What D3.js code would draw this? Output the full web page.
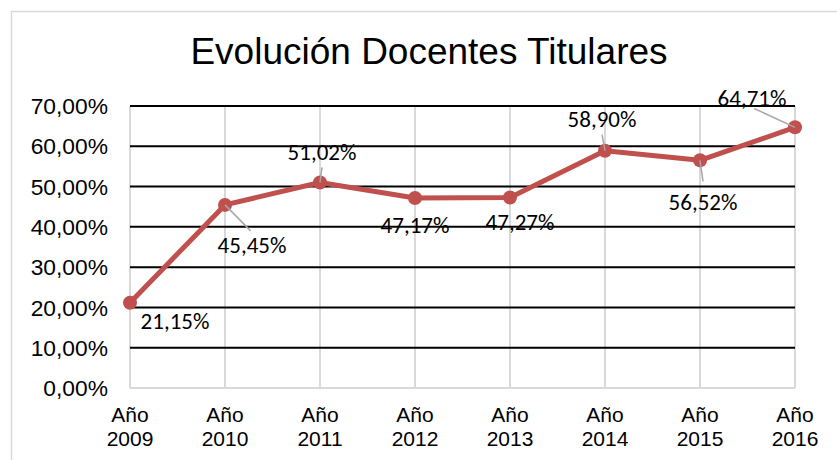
<!DOCTYPE html>
<html>
<head>
<meta charset="utf-8">
<script src="https://cdn.jsdelivr.net/npm/d3@7"></script>
<style>
  body { margin: 0; background: #fff; }
  text { font-family: "Liberation Sans", Arial, sans-serif; }
</style>
</head>
<body>
<div id="chart"></div>
<script>
// data
var years = ["2009", "2010", "2011", "2012", "2013", "2014", "2015", "2016"]
var titulares = [21.15, 45.45, 51.02, 47.17, 47.27, 58.90, 56.52, 64.71]
var yTicks = [0, 10, 20, 30, 40, 50, 60, 70]

// label placement (pixels from the point), and which ones get a leader line
var labelDx = [45, 27, 2, 0, 10, -3, 3, -43]
var labelDy = [18, 40, -31, 27, 24, -32, 41, -30]
var leader = [false, true, true, false, false, true, true, true]

var W = 837, H = 460
var svg = d3.select("#chart").append("svg")
    .attr("width", W)
    .attr("height", H)

// chart border (only top and left visible in the crop)
svg.append("path")
    .attr("d", "M11.5," + H + "V11.5H" + W)
    .attr("fill", "none")
    .attr("stroke", "#d9d9d9")
    .attr("stroke-width", 1.5)

svg.append("text")
    .attr("x", 429)
    .attr("y", 64)
    .attr("text-anchor", "middle")
    .style("font-size", "37px")
    .attr("fill", "#000")
    .text("Evolución Docentes Titulares")

var x = d3.scalePoint().domain(years).range([130, 795])
var y = d3.scaleLinear().domain([0, 70]).range([388, 106])

// vertical light grid
svg.selectAll(".vgrid").data(years)
  .enter().append("line")
    .attr("class", "vgrid")
    .attr("x1", d => x(d)).attr("x2", d => x(d))
    .attr("y1", y(70)).attr("y2", y(0))
    .attr("stroke", "#d9d9d9")
    .attr("stroke-width", 2)

// horizontal grid (black), baseline light gray
svg.selectAll(".hgrid").data(yTicks)
  .enter().append("line")
    .attr("class", "hgrid")
    .attr("x1", x(years[0])).attr("x2", x(years[years.length - 1]))
    .attr("y1", d => y(d)).attr("y2", d => y(d))
    .attr("stroke", d => d == 0 ? "#d9d9d9" : "#000")
    .attr("stroke-width", 2)

// y axis labels
svg.selectAll(".ylab").data(yTicks)
  .enter().append("text")
    .attr("class", "ylab")
    .attr("x", 108)
    .attr("y", d => y(d))
    .attr("dy", "0.36em")
    .attr("text-anchor", "end")
    .style("font-size", "22.8px")
    .text(d => d3.format(".2f")(d).replace(".", ",") + "%")

// x axis labels (two lines)
var xl = svg.selectAll(".xlab").data(years)
  .enter().append("text")
    .attr("class", "xlab")
    .attr("text-anchor", "middle")
    .style("font-size", "21px")
xl.append("tspan").attr("x", d => x(d)).attr("y", 422).text("Año")
xl.append("tspan").attr("x", d => x(d)).attr("y", 446).text(d => d)

// line
var line = d3.line()
    .x((d, i) => x(years[i]))
    .y(d => y(d))

svg.append("path")
    .datum(titulares)
    .attr("d", line)
    .attr("fill", "none")
    .attr("stroke", "#c0504d")
    .attr("stroke-width", 5)
    .attr("stroke-linejoin", "round")

svg.selectAll(".dot").data(titulares)
  .enter().append("circle")
    .attr("class", "dot")
    .attr("cx", (d, i) => x(years[i]))
    .attr("cy", d => y(d))
    .attr("r", 7)
    .attr("fill", "#c0504d")

// leader lines
svg.selectAll(".leader").data(titulares)
  .enter().filter((d, i) => leader[i]).append("line")
    .attr("class", "leader")
    .attr("x1", (d, i) => x(years[titulares.indexOf(d)]))
    .attr("y1", d => y(d))
    .attr("x2", d => {
        var i = titulares.indexOf(d)
        return x(years[i]) + labelDx[i] * (Math.abs(labelDx[i]) > 20 ? 0.95 : 1)
    })
    .attr("y2", d => {
        var i = titulares.indexOf(d)
        return y(d) + labelDy[i] + (labelDy[i] > 0 ? -20 : 16) * (Math.abs(labelDx[i]) > 20 ? 0.7 : 1)
    })
    .attr("stroke", "#a6a6a6")
    .attr("stroke-width", 1.5)

// data labels
svg.selectAll(".dlab").data(titulares)
  .enter().append("text")
    .attr("class", "dlab")
    .attr("x", (d, i) => x(years[i]) + labelDx[i])
    .attr("y", (d, i) => y(d) + labelDy[i])
    .attr("dy", "0.36em")
    .attr("text-anchor", "middle")
    .style("font-family", "Carlito, Lato, 'Open Sans', sans-serif")
    .style("font-size", "23px")
    .attr("fill", "#000")
    .text(d => d3.format(".2f")(d).replace(".", ",") + "%")
</script>
</body>
</html>
